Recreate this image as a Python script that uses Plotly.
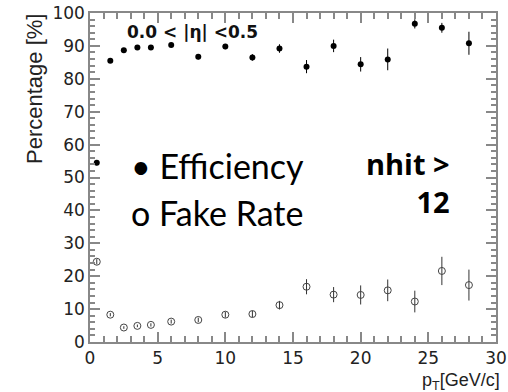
import plotly.graph_objects as go

# pT bin centres [GeV/c]
pt = [0.5, 1.5, 2.5, 3.5, 4.5, 6, 8, 10, 12, 14, 16, 18, 20, 22, 24, 26, 28]
# efficiency [%] and its error
eff = [54.5, 85.5, 88.7, 89.5, 89.5, 90.3, 86.7, 89.8, 86.5, 89.2, 83.7, 90.0, 84.4, 85.9, 96.7, 95.5, 90.8]
eff_err = [0.8, 0.5, 0.4, 0.4, 0.5, 0.6, 0.8, 0.8, 1.0, 1.3, 2.0, 1.9, 2.2, 3.3, 1.4, 1.5, 3.5]
# fake rate [%] and its error
fake = [24.4, 8.3, 4.4, 4.9, 5.2, 6.2, 6.7, 8.3, 8.5, 11.2, 16.8, 14.4, 14.3, 15.7, 12.3, 21.6, 17.3]
fake_err = [0.8, 0.5, 0.4, 0.4, 0.5, 0.6, 0.7, 0.9, 1.0, 1.3, 2.3, 2.3, 2.9, 3.3, 3.3, 4.3, 4.7]

x_ticks = [0, 5, 10, 15, 20, 25, 30]
y_ticks = [0, 10, 20, 30, 40, 50, 60, 70, 80, 90, 100]

fig = go.Figure()
fig.add_trace(go.Scatter(
    x=pt, y=eff, mode="markers", name="Efficiency",
    marker=dict(symbol="circle", size=6, color="black"),
    error_y=dict(type="data", array=eff_err, color="black", thickness=1, width=0),
))
fig.add_trace(go.Scatter(
    x=pt, y=fake, mode="markers", name="Fake Rate",
    marker=dict(symbol="circle-open", size=7, color="#444", line=dict(width=1)),
    error_y=dict(type="data", array=fake_err, color="#333", thickness=1, width=0),
))

axis_common = dict(
    showline=True, linecolor="#888", linewidth=1.5, mirror="ticks",
    ticks="inside", ticklen=10, tickcolor="#888", tickwidth=1.5,
    showgrid=False, zeroline=False, automargin=False,
    tickfont=dict(family="DejaVu Sans", size=17, color="#222"),
)

fig.update_layout(
    width=508, height=392,
    margin=dict(l=90, r=12, t=13, b=50, autoexpand=False),
    paper_bgcolor="white", plot_bgcolor="white",
    showlegend=False,
    xaxis=dict(range=[0, 30], tickvals=x_ticks, ticktext=[str(v) for v in x_ticks],
               minor=dict(dtick=1, ticks="inside", ticklen=6, tickcolor="#888", tickwidth=1.5),
               **axis_common),
    yaxis=dict(range=[0, 100], tickvals=y_ticks, ticktext=[str(v) for v in y_ticks],
               minor=dict(dtick=2, ticks="inside", ticklen=5, tickcolor="#888", tickwidth=1.5),
               **axis_common),
)

anns = [
    dict(text="<b>0.0 &lt; |η| &lt;0.5</b>", x=7.54, y=94.2, xref="x", yref="y",
         xanchor="center", yanchor="middle", showarrow=False,
         font=dict(family="DejaVu Sans", size=17, color="#111")),
    dict(text="• Efficiency", x=2.88, y=53.8, xref="x", yref="y",
         xanchor="left", yanchor="middle", showarrow=False,
         font=dict(family="Lato", size=34, color="black")),
    dict(text="o Fake Rate", x=2.88, y=39.3, xref="x", yref="y",
         xanchor="left", yanchor="middle", showarrow=False,
         font=dict(family="Lato", size=34, color="black")),
    dict(text="<b>nhit &gt;<br>12</b>", x=26.78, y=48.6, xref="x", yref="y",
         xanchor="right", yanchor="middle", align="right", showarrow=False,
         font=dict(family="Open Sans", size=29, color="black")),
    dict(text="p<sub>T</sub>[GeV/c]", x=1.015, y=-0.119, xref="paper", yref="paper",
         xanchor="right", yanchor="middle", showarrow=False,
         font=dict(family="Liberation Sans, Arial", size=18, color="#222")),
    dict(text="Percentage [%]", x=-0.138, y=1.003, xref="paper", yref="paper",
         xanchor="center", yanchor="top", textangle=-90, showarrow=False,
         font=dict(family="Liberation Sans, Arial", size=22, color="#222")),
]
fig.update_layout(annotations=anns)

fig.write_html("out.html", config={"displayModeBar": False},
               post_script="document.body.style.margin='0';")
